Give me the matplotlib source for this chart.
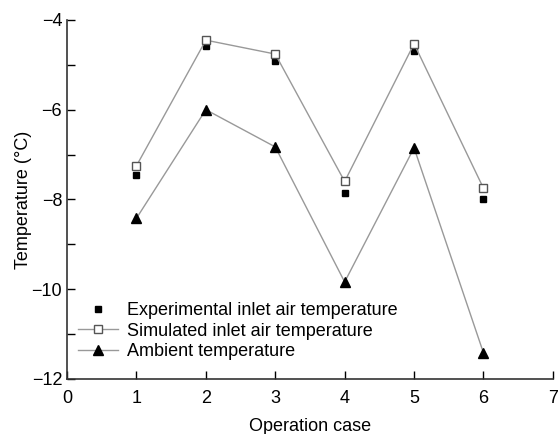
import matplotlib
matplotlib.use("Agg")
import matplotlib.pyplot as plt
from matplotlib.ticker import MultipleLocator

plt.rcParams['font.family'] = ['Liberation Sans', 'DejaVu Sans']

# donnees
cases = [1, 2, 3, 4, 5, 6]
experimental = [-7.45, -4.58, -4.91, -7.85, -4.69, -8.0]
simulated = [-7.25, -4.45, -4.76, -7.6, -4.53, -7.75]
ambient = [-8.42, -6.0, -6.83, -9.84, -6.85, -11.42]

fig = plt.figure(figsize=(5.59, 4.34), dpi=100)
ax = fig.add_axes([0.12, 0.127, 0.869, 0.827])

ax.plot(cases, experimental, linestyle='none', marker='s', color='black',
        markersize=5, label="Experimental inlet air temperature")
ax.plot(cases, simulated, color='#999999', linewidth=1, marker='s',
        markerfacecolor='white', markeredgecolor='#555555', markersize=6,
        label="Simulated inlet air temperature")
ax.plot(cases, ambient, color='#999999', linewidth=1, marker='^',
        markerfacecolor='black', markeredgecolor='black', markersize=6.5,
        label="Ambient temperature")

ax.set_xlim(0, 7)
ax.set_ylim(-12, -4)
ax.xaxis.set_major_locator(MultipleLocator(1))
ax.yaxis.set_major_locator(MultipleLocator(2))
ax.yaxis.set_minor_locator(MultipleLocator(1))
ax.tick_params(which='both', direction='in', length=6, width=1, labelsize=13)
ax.tick_params(axis='x', pad=8)
for s in ['top', 'right']:
    ax.spines[s].set_visible(False)
for s in ['left', 'bottom']:
    ax.spines[s].set_linewidth(1.2)
    ax.spines[s].set_color('#333333')

ax.set_xlabel("Operation case", fontsize=13, labelpad=8)
ax.set_ylabel("Temperature (°C)", fontsize=13, labelpad=0)

ax.legend(loc='lower left', bbox_to_anchor=(0.0, 0.022), frameon=False,
          fontsize=13, handlelength=2.2, handletextpad=0.5, labelspacing=0.2,
          borderaxespad=0.2)

fig.savefig("out.png", dpi=100)
